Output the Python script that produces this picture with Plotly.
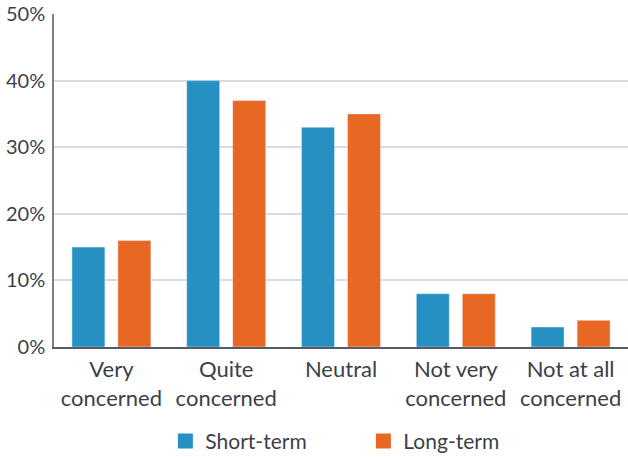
import plotly.graph_objects as go

categories = ["Very<br>concerned", "Quite<br>concerned", "Neutral", "Not very<br>concerned", "Not at all<br>concerned"]
short_term = [15, 40, 33, 8, 3]
long_term = [16, 37, 35, 8, 4]
tick_vals = [0, 10, 20, 30, 40, 50]
tick_text = ["0%", "10%", "20%", "30%", "40%", "50%"]

font_fam = "Lato, 'Open Sans', sans-serif"
text_col = "#3b3f4a"
blue = "#2690c2"
orange = "#e86722"

fig = go.Figure()
fig.add_trace(go.Bar(name="Short-term", x=categories, y=short_term, marker_color=blue, showlegend=False))
fig.add_trace(go.Bar(name="Long-term", x=categories, y=long_term, marker_color=orange, showlegend=False))
# legend entries with square markers
fig.add_trace(go.Scatter(name="Short-term", x=[None], y=[None], mode="markers",
                         marker=dict(symbol="square", size=15, color=blue)))
fig.add_trace(go.Scatter(name="Long-term", x=[None], y=[None], mode="markers",
                         marker=dict(symbol="square", size=15, color=orange)))

fig.update_layout(
    width=628, height=457,
    margin=dict(l=54, r=0, t=14, b=110, autoexpand=False),
    paper_bgcolor="white", plot_bgcolor="white",
    barmode="group", bargap=0.199, bargroupgap=0.283,
    font=dict(family=font_fam, size=18, color=text_col),
    showlegend=True,
    legend=dict(orientation="h", x=0.194, xanchor="left", y=-0.283, yanchor="middle",
                font=dict(size=21, color=text_col), entrywidth=153, entrywidthmode="pixels"),
)
fig.update_yaxes(range=[0, 50], tickvals=tick_vals, ticktext=tick_text, automargin=False,
                 showgrid=True, gridcolor="#d8dbe0", gridwidth=1.5,
                 showline=True, linecolor="#7a808a", linewidth=1.5,
                 ticks="", zeroline=False, tickfont=dict(size=20, color=text_col),
                 ticklabelstandoff=3)
fig.update_xaxes(showline=True, linecolor="#555b66", linewidth=1.5, ticks="", automargin=False,
                 tickfont=dict(size=22, color=text_col), ticklabelstandoff=2)

fig.write_html("out.html", config={"displayModeBar": False},
               post_script="document.body.style.margin='0';")
